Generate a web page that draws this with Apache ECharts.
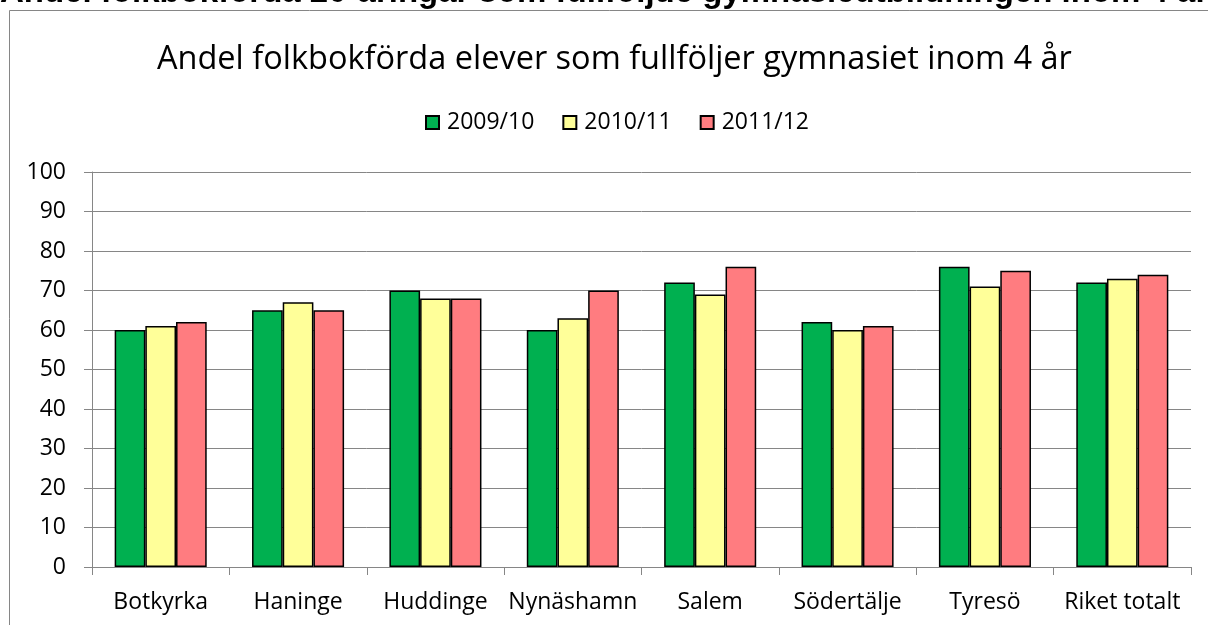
<!DOCTYPE html>
<html>
<head>
<meta charset="utf-8">
<script src="https://cdn.jsdelivr.net/npm/echarts@6/dist/echarts.min.js"></script>
<style>
  html, body { margin: 0; padding: 0; background: #fff; }
  #chart { width: 1208px; height: 625px; }
</style>
</head>
<body>
<div id="chart"></div>
<script>
const categories = ['Botkyrka', 'Haninge', 'Huddinge', 'Nynäshamn', 'Salem', 'Södertälje', 'Tyresö', 'Riket totalt'];
const years = ['2009/10', '2010/11', '2011/12'];
const values0910 = [60, 65, 70, 60, 72, 62, 76, 72];
const values1011 = [61, 67, 68, 63, 69, 60, 71, 73];
const values1112 = [62, 65, 68, 70, 76, 61, 75, 74];
const yTicks = [0, 100, 10]; // min, max, interval

const colors = ['#00B050', '#FFFF99', '#FF7C80'];
const seriesData = [values0910, values1011, values1112];
const font = '"Open Sans", "Noto Sans", sans-serif';

const chart = echarts.init(document.getElementById('chart'));

chart.setOption({
  animation: false,
  backgroundColor: '#fff',
  title: {
    text: 'Andel folkbokförda elever som fullföljer gymnasiet inom 4 år',
    left: 152,
    top: 38,
    textStyle: { fontFamily: font, fontSize: 32.5, fontWeight: 'normal', color: '#000' }
  },
  graphic: [
    {
      type: 'rect',
      silent: true,
      shape: { x: 9.5, y: 10.5, width: 1400, height: 800 },
      style: { fill: 'none', stroke: '#868686', lineWidth: 1 }
    },
    {
      type: 'text',
      silent: true,
      left: 0,
      top: -24,
      style: {
        text: 'Andel folkbokförda 20-åringar som fullföljde gymnasieutbildningen inom 4 år',
        font: 'bold 33px "Liberation Sans", Arial, sans-serif',
        fill: '#000'
      }
    }
  ],
  legend: {
    data: years,
    top: 106,
    left: 420,
    icon: 'rect',
    itemWidth: 13,
    itemHeight: 13,
    itemGap: 28,
    textStyle: { fontFamily: font, fontSize: 23, color: '#000', padding: [0, 0, 0, 3] }
  },
  grid: { left: 92, right: 17, top: 172, bottom: 58 },
  xAxis: {
    type: 'category',
    data: categories,
    axisLine: { lineStyle: { color: '#868686', width: 1 } },
    axisTick: { show: true, length: 8, lineStyle: { color: '#868686' } },
    axisLabel: { fontFamily: font, fontSize: 23, color: '#000', margin: 24, interval: 0 }
  },
  yAxis: {
    type: 'value',
    min: yTicks[0],
    max: yTicks[1],
    interval: yTicks[2],
    axisLine: { show: true, lineStyle: { color: '#868686', width: 1 } },
    axisTick: { show: true, length: 8, lineStyle: { color: '#868686' } },
    splitLine: { lineStyle: { color: '#868686', width: 1 } },
    axisLabel: { fontFamily: font, fontSize: 23, color: '#000', margin: 26 }
  },
  series: years.map((name, i) => ({
    name,
    type: 'bar',
    data: seriesData[i],
    barGap: '0%',
    barCategoryGap: '33%',
    itemStyle: { color: colors[i], borderColor: '#000', borderWidth: 1.5 }
  }))
});
</script>
</body>
</html>
